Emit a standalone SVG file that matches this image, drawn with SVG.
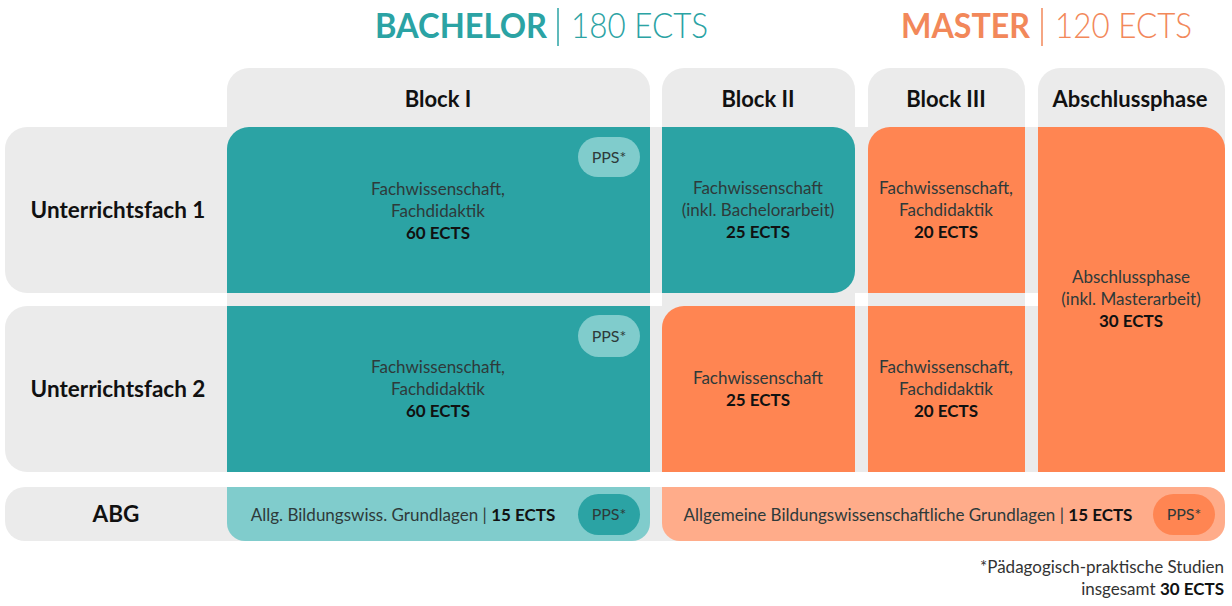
<svg xmlns="http://www.w3.org/2000/svg" width="1232" height="606" viewBox="0 0 1232 606">
<style>
text{font-family:Lato,"Noto Sans","Liberation Sans",sans-serif;}
.bg{fill:#ebebeb;}
.teal{fill:#2ba3a4;}
.lteal{fill:#80cccc;}
.orange{fill:#ff8552;}
.lorange{fill:#ffac8a;}
.hd{font-size:22px;font-weight:700;fill:#111;text-anchor:middle;}
.rl{font-size:22.5px;font-weight:700;fill:#111;text-anchor:middle;}
.ct{font-size:17px;fill:#2e3a3a;text-anchor:middle;}
.ct tspan.b,.b{font-weight:700;fill:#111;}
.pps{font-size:16px;fill:#2e3a3a;text-anchor:middle;}
.ft{font-size:17px;fill:#333;text-anchor:end;}
</style>
<rect width="1232" height="606" fill="#fff"/>
<g id="title">
<text x="375" y="38" font-size="35" font-weight="700" fill="#2ba3a4" textLength="172" lengthAdjust="spacingAndGlyphs">BACHELOR</text>
<line x1="558" y1="8" x2="558" y2="46" stroke="#2ba3a4" stroke-width="1.5"/>
<text x="571" y="38" font-size="35" font-weight="300" fill="#2ba3a4" textLength="137" lengthAdjust="spacingAndGlyphs">180 ECTS</text>
<text x="901" y="38" font-size="35" font-weight="700" fill="#f2885a" textLength="129" lengthAdjust="spacingAndGlyphs">MASTER</text>
<line x1="1042" y1="8" x2="1042" y2="46" stroke="#f2885a" stroke-width="1.5"/>
<text x="1055" y="38" font-size="35" font-weight="300" fill="#f2885a" textLength="137" lengthAdjust="spacingAndGlyphs">120 ECTS</text>
</g>
<g id="backgrounds">
<rect class="bg" x="227" y="68" width="423" height="404" rx="22"/>
<rect class="bg" x="662" y="68" width="193" height="404" rx="22"/>
<rect class="bg" x="868" y="68" width="157" height="404" rx="22"/>
<rect class="bg" x="1038" y="68" width="187" height="404" rx="22"/>
<rect class="bg" x="5" y="127" width="1220" height="166" rx="22"/>
<rect class="bg" x="5" y="306" width="1220" height="166" rx="22"/>
<rect class="bg" x="5" y="487" width="1220" height="54" rx="20"/>
</g>
<g id="headers">
<text class="hd" x="438" y="107">Block I</text>
<text class="hd" x="758" y="107">Block II</text>
<text class="hd" x="946" y="107">Block III</text>
<text class="hd" x="1130" y="107">Abschlussphase</text>
</g>
<g id="rowlabels">
<text class="rl" x="118" y="218">Unterrichtsfach 1</text>
<text class="rl" x="118" y="397">Unterrichtsfach 2</text>
<text class="rl" x="116" y="522">ABG</text>
</g>
<g id="b1r1">
<path class="teal" d="M227,149 A22,22 0 0 1 249,127 H650 V293 H227 Z"/>
<rect class="lteal" x="578" y="137" width="62" height="40" rx="20"/>
<text class="pps" x="609" y="163">PPS*</text>
<text class="ct" x="438" y="195">Fachwissenschaft,</text>
<text class="ct" x="438" y="217">Fachdidaktik</text>
<text class="ct b" x="438" y="239">60 ECTS</text>
</g>
<g id="b2r1">
<path class="teal" d="M662,127 H833 A22,22 0 0 1 855,149 V271 A22,22 0 0 1 833,293 H662 Z"/>
<text class="ct" x="758" y="194">Fachwissenschaft</text>
<text class="ct" x="758" y="216">(inkl. Bachelorarbeit)</text>
<text class="ct b" x="758" y="238">25 ECTS</text>
</g>
<g id="b3r1">
<path class="orange" d="M868,149 A22,22 0 0 1 890,127 H1025 V293 H868 Z"/>
<text class="ct" x="946" y="194">Fachwissenschaft,</text>
<text class="ct" x="946" y="216">Fachdidaktik</text>
<text class="ct b" x="946" y="238">20 ECTS</text>
</g>
<g id="abschluss">
<path class="orange" d="M1038,127 H1203 A22,22 0 0 1 1225,149 V472 H1038 Z"/>
<text class="ct" x="1131" y="283">Abschlussphase</text>
<text class="ct" x="1131" y="305">(inkl. Masterarbeit)</text>
<text class="ct b" x="1131" y="327">30 ECTS</text>
</g>
<g id="b1r2">
<rect class="teal" x="227" y="306" width="423" height="166"/>
<rect class="lteal" x="578" y="315" width="62" height="42" rx="21"/>
<text class="pps" x="609" y="342">PPS*</text>
<text class="ct" x="438" y="373">Fachwissenschaft,</text>
<text class="ct" x="438" y="395">Fachdidaktik</text>
<text class="ct b" x="438" y="417">60 ECTS</text>
</g>
<g id="b2r2">
<path class="orange" d="M662,328 A22,22 0 0 1 684,306 H855 V472 H662 Z"/>
<text class="ct" x="758" y="384">Fachwissenschaft</text>
<text class="ct b" x="758" y="406">25 ECTS</text>
</g>
<g id="b3r2">
<rect class="orange" x="868" y="306" width="157" height="166"/>
<text class="ct" x="946" y="373">Fachwissenschaft,</text>
<text class="ct" x="946" y="395">Fachdidaktik</text>
<text class="ct b" x="946" y="417">20 ECTS</text>
</g>
<g id="abg-bachelor">
<path class="lteal" d="M227,487 H650 V523 A18,18 0 0 1 632,541 H245 A18,18 0 0 1 227,523 Z"/>
<rect class="teal" x="578" y="494" width="62" height="41" rx="20.5"/>
<text class="pps" x="609" y="520">PPS*</text>
<text class="ct" x="403" y="521">Allg. Bildungswiss. Grundlagen | <tspan class="b">15 ECTS</tspan></text>
</g>
<g id="abg-master">
<path class="lorange" d="M662,487 H1207 A18,18 0 0 1 1225,505 V523 A18,18 0 0 1 1207,541 H680 A18,18 0 0 1 662,523 Z"/>
<rect class="orange" x="1153" y="494" width="62" height="41" rx="20.5"/>
<text class="pps" x="1184" y="520">PPS*</text>
<text class="ct" x="908" y="521">Allgemeine Bildungswissenschaftliche Grundlagen | <tspan class="b">15 ECTS</tspan></text>
</g>
<g id="footnote">
<text class="ft" x="1224" y="573">*Pädagogisch-praktische Studien</text>
<text class="ft" x="1224" y="595">insgesamt <tspan font-weight="700" fill="#111">30 ECTS</tspan></text>
</g>
</svg>
